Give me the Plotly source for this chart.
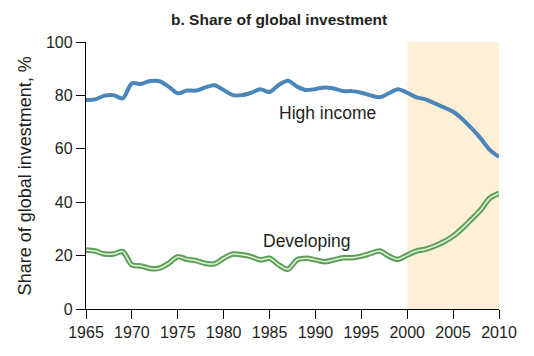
import plotly.graph_objects as go

years = list(range(1965, 2011))
high_income = [78.3, 78.5, 79.9, 80.1, 78.9, 84.5, 84.3, 85.4, 85.3, 83.3,
               80.8, 81.8, 81.8, 83.0, 83.8, 82.0, 80.1, 80.1, 81.0, 82.3,
               81.3, 83.9, 85.5, 83.3, 82.0, 82.4, 83.0, 82.6, 81.6, 81.6,
               81.0, 80.0, 79.3, 80.8, 82.3, 81.0, 79.3, 78.5, 77.0, 75.5,
               73.9, 71.2, 67.7, 63.9, 59.6, 57.0]
developing = [22.1, 21.7, 20.6, 20.6, 21.5, 16.5, 16.1, 15.2, 15.3, 17.1,
              19.6, 18.6, 18.1, 17.1, 16.9, 19.0, 20.6, 20.3, 19.6, 18.4,
              19.0, 16.5, 14.9, 18.4, 19.0, 18.4, 17.7, 18.4, 19.2, 19.2,
              19.8, 20.8, 21.7, 19.8, 18.6, 20.2, 21.7, 22.4, 23.6, 25.2,
              27.3, 30.2, 33.6, 37.1, 41.5, 43.3]
y_ticks = [0, 20, 40, 60, 80, 100]
x_ticks = list(range(1965, 2011, 5))
shade_start, shade_end = 2000, 2010

FONT = "Liberation Sans, Arial, sans-serif"
TXT = "#231f20"

fig = go.Figure()
fig.add_shape(type="rect", xref="x", yref="y", x0=shade_start, x1=shade_end,
              y0=0, y1=100, fillcolor="#fdf0d6", line_width=0, layer="below")

fig.add_trace(go.Scatter(x=years, y=high_income, mode="lines",
                         line=dict(color="#4a86ba", width=4, shape="spline", smoothing=0.9),
                         hoverinfo="skip", showlegend=False))
fig.add_trace(go.Scatter(x=years, y=developing, mode="lines",
                         line=dict(color="#5e9f58", width=5.5, shape="spline", smoothing=0.9),
                         hoverinfo="skip", showlegend=False))
fig.add_trace(go.Scatter(x=years, y=developing, mode="lines",
                         line=dict(color="#e4f2dc", width=1.5, shape="spline", smoothing=0.9),
                         hoverinfo="skip", showlegend=False))

fig.add_annotation(x=1985.8, y=73.4, text="High income", showarrow=False,
                   xanchor="left", yanchor="middle",
                   font=dict(family=FONT, size=17.5, color=TXT))
fig.add_annotation(x=1984.1, y=25.6, text="Developing", showarrow=False,
                   xanchor="left", yanchor="middle",
                   font=dict(family=FONT, size=17.5, color=TXT))
fig.add_annotation(xref="paper", yref="paper", x=0.467, y=1.086,
                   text="<b>b. Share of global investment</b>", showarrow=False,
                   xanchor="center", yanchor="middle",
                   font=dict(family=FONT, size=15.5, color=TXT))
fig.add_annotation(xref="paper", yref="paper", x=-0.148, y=0.5,
                   text="Share of global investment, %", showarrow=False,
                   textangle=-90, xanchor="center", yanchor="middle",
                   font=dict(family=FONT, size=18, color=TXT))

fig.update_xaxes(range=[1965, 2010], tickvals=x_ticks, ticks="outside", ticklen=9,
                 tickcolor="black", tickwidth=1.3, showline=True, linecolor="black",
                 linewidth=1.3, showgrid=False, zeroline=False,
                 tickfont=dict(family=FONT, size=16, color=TXT))
fig.update_yaxes(range=[0, 100], tickvals=y_ticks, ticks="outside", ticklen=9,
                 tickcolor="black", tickwidth=1.3, showline=True, linecolor="black",
                 linewidth=1.3, showgrid=False, zeroline=False,
                 tickfont=dict(family=FONT, size=16, color=TXT))

fig.update_layout(width=534, height=356, margin=dict(l=78, r=43, t=34, b=55),
                  plot_bgcolor="white", paper_bgcolor="white", showlegend=False)

fig.write_html("out.html")
